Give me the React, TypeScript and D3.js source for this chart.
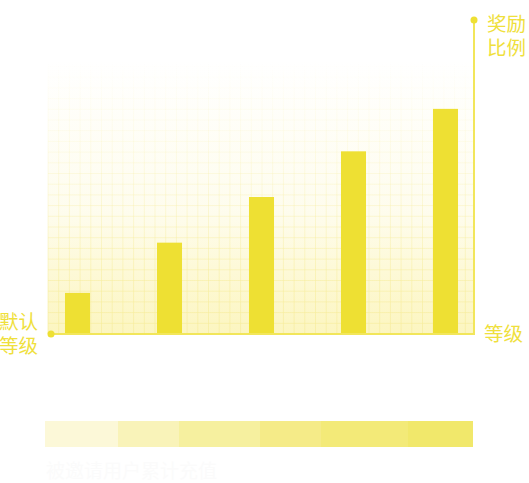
import React, { useEffect, useRef } from 'react';
import { select, scaleBand, scaleLinear, range } from 'd3';

// 等级 / 奖励比例
const levels = ['L1', 'L2', 'L3', 'L4', 'L5'];
const rewards = [9, 20, 30, 40, 49.3];
const rewardMax = 60;

// 图例分段（累计充值）
const legendStops = [0, 73, 134, 215, 276, 363, 428];
const legendColors = ['#fcf8d8', '#f9f3b9', '#f6f09f', '#f5eb88', '#f3ea78', '#f1e86b'];

const yLabel = ['奖励', '比例'];
const xLabel = ['等级'];
const originLabel = ['默认', '等级'];
const caption = '被邀请用户累计充值';

export default function App() {
  const svgRef = useRef<SVGSVGElement>(null);

  useEffect(() => {
    const width = 529;
    const height = 483;
    const left = 48;
    const right = 474;
    const top = 60;
    const bottom = 334;
    const yellow = '#eee033';
    const textColor = '#efe03c';
    const font = '"Noto Sans CJK SC", "Noto Sans", sans-serif';

    const svg = select(svgRef.current)
      .attr('width', width)
      .attr('height', height)
      .attr('viewBox', `0 0 ${width} ${height}`);
    svg.selectAll('*').remove();

    const defs = svg.append('defs');
    const bg = defs.append('linearGradient').attr('id', 'bgGrad')
      .attr('x1', 0).attr('y1', 0).attr('x2', 0).attr('y2', 1);
    bg.append('stop').attr('offset', '0%').attr('stop-color', '#fbf3b0').attr('stop-opacity', 0);
    bg.append('stop').attr('offset', '55%').attr('stop-color', '#fbf3b0').attr('stop-opacity', 0.22);
    bg.append('stop').attr('offset', '100%').attr('stop-color', '#fbf3b0').attr('stop-opacity', 0.8);

    const gg = defs.append('linearGradient').attr('id', 'gridGrad')
      .attr('gradientUnits', 'userSpaceOnUse')
      .attr('x1', 0).attr('y1', top).attr('x2', 0).attr('y2', bottom);
    gg.append('stop').attr('offset', '0%').attr('stop-color', '#f6ec9a').attr('stop-opacity', 0);
    gg.append('stop').attr('offset', '30%').attr('stop-color', '#f6ec9a').attr('stop-opacity', 0.15);
    gg.append('stop').attr('offset', '100%').attr('stop-color', '#f6ec9a').attr('stop-opacity', 0.65);

    const x = scaleBand<string>()
      .domain(levels)
      .range([31.5, 491.5])
      .paddingInner(0.728)
      .paddingOuter(0.364);

    const y = scaleLinear().domain([0, rewardMax]).range([bottom, top]);

    // background + grid
    svg.append('rect')
      .attr('x', left).attr('y', top)
      .attr('width', right - left).attr('height', bottom - top)
      .attr('fill', 'url(#bgGrad)');

    const grid = svg.append('g').attr('stroke', 'url(#gridGrad)').attr('stroke-width', 1);
    grid.selectAll('line.v')
      .data(range(left, right, 10.7))
      .join('line')
      .attr('x1', (d) => d).attr('x2', (d) => d)
      .attr('y1', top).attr('y2', bottom);
    grid.selectAll('line.h')
      .data(range(bottom, top, -10.7))
      .join('line')
      .attr('x1', left).attr('x2', right)
      .attr('y1', (d) => d).attr('y2', (d) => d);

    // bars
    svg.selectAll('.bar')
      .data(rewards)
      .join('rect')
      .attr('class', 'bar')
      .attr('x', (d, i) => x(levels[i]) as number)
      .attr('y', (d) => y(d))
      .attr('width', x.bandwidth())
      .attr('height', (d) => bottom - y(d))
      .attr('fill', yellow);

    // axes
    svg.append('line')
      .attr('x1', 51).attr('x2', right)
      .attr('y1', bottom).attr('y2', bottom)
      .attr('stroke', '#f2e65a').attr('stroke-width', 2);
    svg.append('line')
      .attr('x1', right).attr('x2', right)
      .attr('y1', 20).attr('y2', bottom + 1)
      .attr('stroke', '#f2e65a').attr('stroke-width', 2);
    svg.append('circle').attr('cx', 51).attr('cy', bottom).attr('r', 3.5).attr('fill', yellow);
    svg.append('circle').attr('cx', right).attr('cy', 20).attr('r', 3.5).attr('fill', yellow);

    const label = (lines: string[], x0: number, y0: number) => {
      svg.append('text')
        .attr('font-family', font)
        .attr('font-size', 19.5)
        .attr('fill', textColor)
        .selectAll('tspan')
        .data(lines)
        .join('tspan')
        .attr('x', x0)
        .attr('y', (d, i) => y0 + i * 24)
        .text((d) => d);
    };
    label(yLabel, 487, 31);
    label(originLabel, -1, 329);
    label(xLabel, 484, 341);

    // legend strip
    const lx = scaleLinear().domain([0, legendStops[legendStops.length - 1]]).range([45, 473]);
    svg.selectAll('.seg')
      .data(legendColors)
      .join('rect')
      .attr('class', 'seg')
      .attr('x', (d, i) => lx(legendStops[i]))
      .attr('width', (d, i) => lx(legendStops[i + 1]) - lx(legendStops[i]))
      .attr('y', 421)
      .attr('height', 26)
      .attr('fill', (d) => d);

    svg.append('text')
      .attr('x', 46).attr('y', 478)
      .attr('font-family', font)
      .attr('font-size', 19)
      .attr('fill', '#fbfbfb')
      .text(caption);
  }, []);

  return (
    <div style={{ position: 'absolute', left: 0, top: 0, background: '#fff' }}>
      <svg ref={svgRef} style={{ display: 'block' }} />
    </div>
  );
}
